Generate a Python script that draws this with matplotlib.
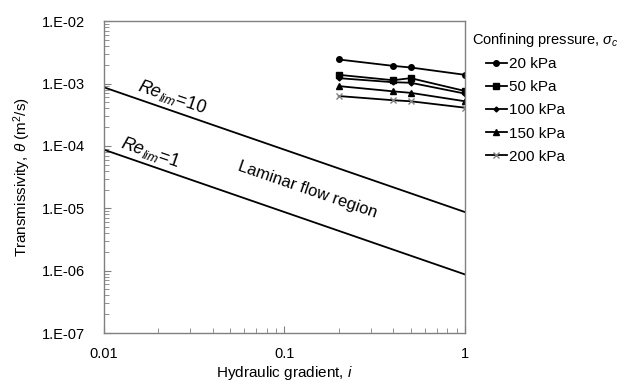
import numpy as np
import matplotlib
matplotlib.use("Agg")
import matplotlib.pyplot as plt

plt.rcParams['font.family'] = ['Liberation Sans', 'DejaVu Sans']
plt.rcParams['mathtext.fontset'] = 'custom'
plt.rcParams['mathtext.rm'] = 'Liberation Sans'
plt.rcParams['mathtext.it'] = 'Liberation Sans:italic'
plt.rcParams['mathtext.bf'] = 'Liberation Sans:bold'

# Data
gradient = [0.2, 0.4, 0.5, 1.0]
labels = ['20 kPa', '50 kPa', '100 kPa', '150 kPa', '200 kPa']
t_20 = [2.43e-3, 1.92e-3, 1.81e-3, 1.38e-3]
t_50 = [1.38e-3, 1.13e-3, 1.22e-3, 7.6e-4]
t_100 = [1.22e-3, 1.05e-3, 1.03e-3, 6.9e-4]
t_150 = [9.1e-4, 7.5e-4, 7.1e-4, 5.2e-4]
t_200 = [6.3e-4, 5.4e-4, 5.2e-4, 4.1e-4]
series = [t_20, t_50, t_100, t_150, t_200]
markers = ['o', 's', 'D', '^', 'x']
msizes = [4, 4.5, 2.5, 4, 4]
mcolors = ['black', 'black', 'black', 'black', '#808080']

# Reynolds limit lines
re_x = [0.01, 1.0]
re10_coef = 8.7e-6
re1_coef = 8.7e-7

fig = plt.figure(figsize=(6.3, 3.85), dpi=100)
ax = fig.add_axes([0.165, 0.135, 0.573, 0.81])

ax.set_xscale('log')
ax.set_yscale('log')
ax.set_xlim(0.01, 1)
ax.set_ylim(1e-7, 1e-2)

rx = np.array(re_x)
ax.plot(rx, re10_coef / rx, color='black', lw=1.3)
ax.plot(rx, re1_coef / rx, color='black', lw=1.3)

handles = []
for s, lab, m, ms, mc in zip(series, labels, markers, msizes, mcolors):
    h, = ax.plot(gradient, s, color='black', lw=1.3, marker=m, markersize=ms,
                 markerfacecolor=mc, markeredgecolor=mc, label=lab)
    handles.append(h)

ax.text(0.0238, 6.05e-4, r'$Re_{lim}$=10', rotation=-19, rotation_mode='anchor',
        ha='center', va='center', fontsize=13)
ax.text(0.018, 7.7e-5, r'$Re_{lim}$=1', rotation=-19, rotation_mode='anchor',
        ha='center', va='center', fontsize=13)
ax.text(0.135, 1.96e-5, 'Laminar flow region', rotation=-19, rotation_mode='anchor',
        ha='center', va='center', fontsize=12)

ax.set_yticks([1e-7, 1e-6, 1e-5, 1e-4, 1e-3, 1e-2])
ax.set_yticklabels(['1.E-07', '1.E-06', '1.E-05', '1.E-04', '1.E-03', '1.E-02'])
ax.set_xticks([0.01, 0.1, 1])
ax.set_xticklabels(['0.01', '0.1', '1'])

spine_c = '#808080'
for sp in ax.spines.values():
    sp.set_color(spine_c)
    sp.set_linewidth(1.0)
ax.tick_params(which='both', direction='in', color=spine_c, top=False, right=False,
               labelsize=10.5, labelcolor='black')
ax.tick_params(which='major', length=5)
ax.tick_params(which='minor', length=3.5)
ax.tick_params(axis='x', pad=10)
ax.tick_params(axis='y', pad=14)

ax.set_xlabel('Hydraulic gradient, $i$', fontsize=11, labelpad=2)
ax.set_ylabel(r'Transmissivity, $\theta$ (m$^2$/s)', fontsize=11, labelpad=6)

fig.text(472 / 630, 1 - 40 / 385, r'Confining pressure, $\sigma_c$',
         ha='left', va='center', fontsize=10.5)
leg = fig.legend(handles=handles, labels=labels, loc='upper left',
                 bbox_to_anchor=(486 / 630, 1 - 57 / 385), frameon=False, fontsize=11,
                 handlelength=1.35, handletextpad=0.15, labelspacing=0.6,
                 borderaxespad=0, borderpad=0)

fig.savefig('out.png', dpi=100)
